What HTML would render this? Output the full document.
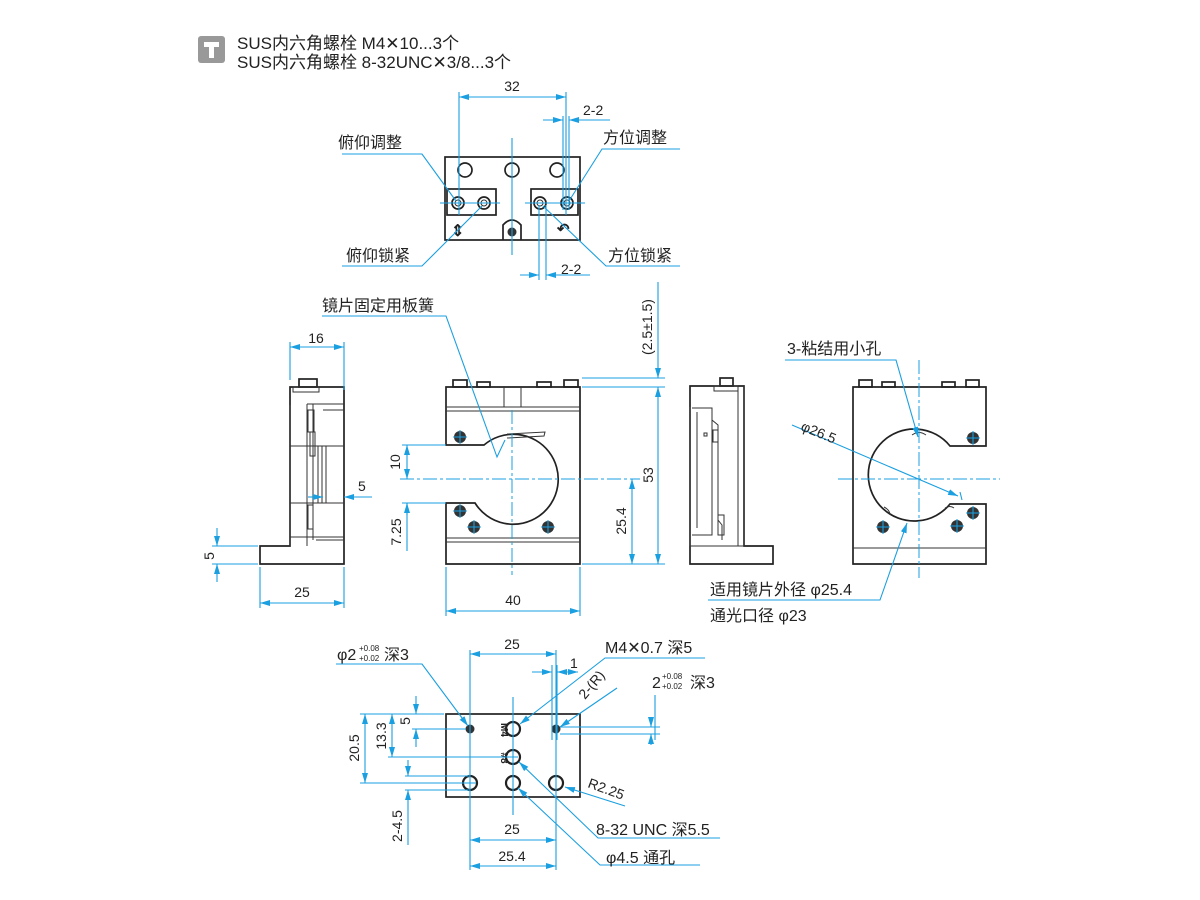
<!DOCTYPE html>
<html><head><meta charset="utf-8"><style>
html,body{margin:0;padding:0;background:#fff;width:1200px;height:900px;overflow:hidden}
svg{display:block}
text{font-family:"Liberation Sans","Noto Sans CJK SC",sans-serif;fill:#222}
.k{fill:none;stroke:#222;stroke-width:1.7}
.kt{fill:none;stroke:#333;stroke-width:1}
.b{fill:none;stroke:#1a9fe0;stroke-width:1.1}
.c{fill:none;stroke:#1a9fe0;stroke-width:1;stroke-dasharray:14 3 3 3}
.lb{font-size:16px}
.dm{font-size:14px}
</style></head><body>
<svg width="1200" height="900" viewBox="0 0 1200 900" xmlns="http://www.w3.org/2000/svg">
<defs>
<marker id="a" viewBox="0 0 10 6" refX="10" refY="3" markerWidth="10" markerHeight="6" orient="auto-start-reverse" markerUnits="userSpaceOnUse"><path d="M0,0L10,3L0,6z" fill="#1a9fe0"/></marker>
</defs>

<!-- header -->
<rect x="198" y="36" width="27" height="27" rx="3" fill="#999"/>
<rect x="204" y="42" width="15" height="5" fill="#fff"/>
<rect x="209" y="47" width="5" height="11" fill="#fff"/>
<text x="237" y="49" style="font-size:17px">SUS内六角螺栓 M4✕10...3个</text>
<text x="237" y="68" style="font-size:17px">SUS内六角螺栓 8-32UNC✕3/8...3个</text>

<!-- ===== top view ===== -->
<rect x="445" y="157" width="135" height="83" class="k"/>
<rect x="447" y="189" width="49" height="26" class="k"/>
<rect x="531" y="189" width="47" height="26" class="k"/>
<path d="M503,240 V225 Q512,215 521,225 V240" class="k"/>
<circle cx="512" cy="232" r="4.5" fill="#333"/>
<g class="k"><circle cx="465" cy="170" r="7"/><circle cx="512" cy="170" r="7"/><circle cx="557" cy="170" r="7"/>
<circle cx="458" cy="203" r="6"/><circle cx="484" cy="203" r="6"/><circle cx="540" cy="203" r="6"/><circle cx="567" cy="203" r="6"/></g>
<g class="kt"><circle cx="458" cy="203" r="3"/><circle cx="484" cy="203" r="3"/><circle cx="540" cy="203" r="3"/><circle cx="567" cy="203" r="3"/></g>
<text x="451" y="236" style="font-size:16px;font-weight:bold">⇕</text>
<text x="557" y="234" style="font-size:15px;font-weight:bold">↶</text>
<g class="b">
<line x1="512" y1="138" x2="512" y2="255"/>
<line x1="459" y1="92" x2="459" y2="215"/><line x1="566" y1="92" x2="566" y2="215"/>
<line x1="459" y1="97" x2="566" y2="97" marker-start="url(#a)" marker-end="url(#a)"/>
<line x1="563" y1="116" x2="563" y2="210"/><line x1="569" y1="116" x2="569" y2="210"/>
<line x1="543" y1="120" x2="563" y2="120" marker-end="url(#a)"/><line x1="569" y1="120" x2="610" y2="120" marker-start="url(#a)"/>
<line x1="539" y1="205" x2="539" y2="280"/><line x1="546" y1="205" x2="546" y2="280"/>
<line x1="520" y1="275" x2="539" y2="275" marker-end="url(#a)"/><line x1="546" y1="275" x2="590" y2="275" marker-start="url(#a)"/>
<path d="M342,154 H422 L456,201"/>
<path d="M680,149 H602 L569,201"/>
<path d="M342,266 H422 L482,206"/>
<path d="M680,266 H606 L543,206"/>
<line x1="440" y1="203" x2="500" y2="203"/><line x1="525" y1="203" x2="585" y2="203"/>
</g>
<text x="512" y="91" class="dm" text-anchor="middle">32</text>
<text x="583" y="115" class="dm">2-2</text>
<text x="561" y="274" class="dm">2-2</text>
<text x="338" y="148" class="lb">俯仰调整</text>
<text x="603" y="143" class="lb">方位调整</text>
<text x="346" y="261" class="lb">俯仰锁紧</text>
<text x="608" y="261" class="lb">方位锁紧</text>

<!-- ===== left side view ===== -->
<path d="M290,387 H344 V564 H260 V546 H290 Z" class="k"/>
<rect x="299" y="379" width="18" height="8" class="k"/>
<rect x="293" y="387" width="26" height="5" class="kt"/>
<g class="kt">
<line x1="290" y1="405" x2="290" y2="546"/>
<path d="M307,404 V546 M307,404 H344 M290,446 H344 M290,503 H344 M290,537 H344"/>
<rect x="308" y="410" width="6" height="22"/><rect x="310" y="432" width="5" height="24"/>
<rect x="318" y="446" width="4" height="57"/><rect x="322" y="446" width="4" height="57"/>
<rect x="308" y="505" width="5" height="24"/>
<path d="M313,404 V540 M323,410 H344 M316,540 H344"/>
</g>
<g class="b">
<line x1="290" y1="342" x2="290" y2="380"/><line x1="344" y1="342" x2="344" y2="390"/>
<line x1="290" y1="347" x2="344" y2="347" marker-start="url(#a)" marker-end="url(#a)"/>
<line x1="260" y1="567" x2="260" y2="608"/><line x1="344" y1="567" x2="344" y2="608"/>
<line x1="260" y1="603" x2="344" y2="603" marker-start="url(#a)" marker-end="url(#a)"/>
<line x1="212" y1="546" x2="258" y2="546"/><line x1="212" y1="564" x2="258" y2="564"/>
<line x1="217" y1="528" x2="217" y2="546" marker-end="url(#a)"/><line x1="217" y1="582" x2="217" y2="564" marker-end="url(#a)"/>
<line x1="308" y1="497" x2="323" y2="497" marker-end="url(#a)"/><line x1="372" y1="497" x2="344" y2="497" marker-end="url(#a)"/>
</g>
<text x="316" y="343" class="dm" text-anchor="middle">16</text>
<text x="302" y="597" class="dm" text-anchor="middle">25</text>
<text x="358" y="491" class="dm">5</text>
<text transform="translate(214,556) rotate(-90)" class="dm" text-anchor="middle">5</text>

<!-- ===== front view ===== -->
<path d="M446,387 H580 V564 H446 V503 H475 A45,45 0 1 0 484,445 H446 Z" class="k"/>
<g class="kt">
<line x1="446" y1="407" x2="580" y2="407"/><line x1="446" y1="411" x2="580" y2="411"/>
<line x1="504" y1="387" x2="504" y2="407"/><line x1="521" y1="387" x2="521" y2="407"/>
<line x1="446" y1="538" x2="580" y2="538"/><line x1="446" y1="542" x2="580" y2="542"/>
<path d="M507,434 L545,432 L544,436 L507,438"/>
</g>
<g class="k"><rect x="453" y="380" width="14" height="7"/><rect x="477" y="382" width="13" height="5"/><rect x="537" y="382" width="14" height="5"/><rect x="564" y="380" width="14" height="7"/></g>
<g fill="#333"><circle cx="460" cy="437" r="6"/><circle cx="460" cy="511" r="6"/><circle cx="474" cy="527" r="6"/><circle cx="548" cy="527" r="6"/></g>
<g class="b">
<path d="M453,437h14M460,430v14M453,511h14M460,504v14M467,527h14M474,520v14M541,527h14M548,520v14"/>
<line x1="512" y1="410" x2="512" y2="575" class="c"/>
<line x1="400" y1="479" x2="640" y2="479" class="c"/>
<path d="M322,316 H446 L497,457 L505,440"/>
<line x1="402" y1="445" x2="446" y2="445"/><line x1="402" y1="503" x2="446" y2="503"/>
<line x1="407" y1="445" x2="407" y2="479" marker-start="url(#a)" marker-end="url(#a)"/>
<line x1="407" y1="503" x2="407" y2="551"/>
<line x1="407" y1="515" x2="407" y2="503" marker-end="url(#a)"/>
<line x1="582" y1="564" x2="665" y2="564"/><line x1="582" y1="387" x2="665" y2="387"/><line x1="582" y1="378" x2="665" y2="378"/>
<line x1="632" y1="479" x2="632" y2="564" marker-start="url(#a)" marker-end="url(#a)"/>
<line x1="658" y1="387" x2="658" y2="564" marker-start="url(#a)" marker-end="url(#a)"/>
<line x1="658" y1="282" x2="658" y2="378" marker-end="url(#a)"/>
<line x1="446" y1="567" x2="446" y2="616"/><line x1="580" y1="567" x2="580" y2="616"/>
<line x1="446" y1="611" x2="580" y2="611" marker-start="url(#a)" marker-end="url(#a)"/>
</g>
<text x="322" y="311" class="lb">镜片固定用板簧</text>
<text transform="translate(400,462) rotate(-90)" class="dm" text-anchor="middle">10</text>
<text transform="translate(401,532) rotate(-90)" class="dm" text-anchor="middle">7.25</text>
<text transform="translate(626,521) rotate(-90)" class="dm" text-anchor="middle">25.4</text>
<text transform="translate(653,475) rotate(-90)" class="dm" text-anchor="middle">53</text>
<text transform="translate(652,327) rotate(-90)" class="dm" text-anchor="middle">(2.5±1.5)</text>
<text x="513" y="605" class="dm" text-anchor="middle">40</text>

<!-- ===== right side view ===== -->
<path d="M690,386 H744 V546 H773 V564 H690 Z" class="k"/>
<rect x="720" y="378" width="13" height="8" class="k"/>
<rect x="714" y="386" width="24" height="5" class="kt"/>
<g class="kt">
<path d="M690,407 V546 M690,546 H744 M744,546 V386"/>
<path d="M692,408 H712 V535 H692 M697,412 V528 M712,420 L718,425 V520 L722,525 V540"/>
<rect x="713" y="430" width="5" height="12"/><rect x="704" y="433" width="3" height="3"/>
<rect x="718" y="515" width="6" height="20"/>
<line x1="738" y1="391" x2="738" y2="546"/>
</g>

<!-- ===== back view ===== -->
<path d="M853,387 H986 V446 H950 A46,46 0 1 0 950,504 H986 V564 H853 Z" class="k"/>
<line x1="853" y1="548" x2="986" y2="548" class="kt"/>
<g class="k"><rect x="859" y="380" width="13" height="7"/><rect x="882" y="382" width="13" height="5"/><rect x="942" y="382" width="13" height="5"/><rect x="966" y="380" width="13" height="7"/></g>
<g class="kt"><path d="M912,435 Q919,430 926,435 M884,507 Q890,510 890,515 M945,508 Q950,505 954,508"/></g>
<g fill="#333"><circle cx="973" cy="438" r="6"/><circle cx="973" cy="513" r="6"/><circle cx="883" cy="527" r="6"/><circle cx="957" cy="526" r="6"/></g>
<g class="b">
<path d="M966,438h14M973,431v14M966,513h14M973,506v14M876,527h14M883,520v14M950,526h14M957,519v14"/>
<line x1="919" y1="360" x2="919" y2="578" class="c"/>
<line x1="838" y1="479" x2="1000" y2="479" class="c"/>
<path d="M785,360 H896 L918,437" marker-end="url(#a)"/>
<line x1="792" y1="425" x2="958" y2="496" marker-end="url(#a)"/>
<line x1="960" y1="492" x2="962" y2="500"/>
<path d="M708,600 H880 L907,523" marker-end="url(#a)"/>
</g>
<text x="787" y="354" class="lb">3-粘结用小孔</text>
<text transform="translate(800,430) rotate(22)" class="dm">φ26.5</text>
<text x="710" y="595" class="lb">适用镜片外径 φ25.4</text>
<text x="710" y="621" class="lb">通光口径 φ23</text>

<!-- ===== bottom view ===== -->
<rect x="446" y="714" width="134" height="83" class="k"/>
<g fill="#333"><circle cx="470" cy="729" r="4.5"/><circle cx="556" cy="729" r="4.5"/></g>
<g class="k" style="stroke-width:2.2"><circle cx="513" cy="729" r="7"/><circle cx="513" cy="757" r="7"/><circle cx="470" cy="783" r="7"/><circle cx="513" cy="783" r="7"/><circle cx="556" cy="783" r="7"/></g>
<text transform="translate(501,730) rotate(90)" style="font-size:10px;font-weight:bold" text-anchor="middle">M4</text>
<text transform="translate(501,758) rotate(90)" style="font-size:10px;font-weight:bold" text-anchor="middle">#8</text>
<g class="b">
<line x1="513" y1="697" x2="513" y2="815"/>
<line x1="470" y1="650" x2="470" y2="870"/><line x1="556" y1="650" x2="556" y2="870"/>
<line x1="470" y1="654" x2="556" y2="654" marker-start="url(#a)" marker-end="url(#a)"/>
<line x1="552" y1="665" x2="552" y2="740"/><line x1="557" y1="665" x2="557" y2="740"/>
<line x1="532" y1="672" x2="552" y2="672" marker-end="url(#a)"/><line x1="578" y1="672" x2="557" y2="672" marker-start="url(#a)" marker-end="url(#a)"/>
<line x1="470" y1="840" x2="556" y2="840" marker-start="url(#a)" marker-end="url(#a)"/>
<line x1="470" y1="866" x2="556" y2="866" marker-start="url(#a)" marker-end="url(#a)"/>
<path d="M336,664 H422 L468,726" marker-end="url(#a)"/>
<path d="M705,658 H605 L520,724" marker-end="url(#a)"/>
<line x1="617" y1="688" x2="560" y2="727" marker-end="url(#a)"/>
<path d="M655,695 V740 M560,727 H660 M560,734 H660"/>
<line x1="651" y1="717" x2="651" y2="727" marker-end="url(#a)"/><line x1="651" y1="745" x2="651" y2="734" marker-end="url(#a)"/>
<path d="M625,806 L565,787" marker-end="url(#a)"/>
<path d="M720,838 H598 L519,762" marker-end="url(#a)"/>
<path d="M700,865 H600 L518,788" marker-end="url(#a)"/>
<line x1="360" y1="714" x2="444" y2="714"/>
<line x1="365" y1="714" x2="365" y2="783" marker-start="url(#a)" marker-end="url(#a)"/>
<line x1="360" y1="783" x2="476" y2="783"/>
<line x1="392" y1="714" x2="392" y2="757" marker-start="url(#a)" marker-end="url(#a)"/>
<line x1="388" y1="757" x2="518" y2="757"/>
<line x1="416" y1="696" x2="416" y2="714" marker-end="url(#a)"/><line x1="416" y1="747" x2="416" y2="729" marker-end="url(#a)"/>
<line x1="412" y1="729" x2="466" y2="729"/>
<line x1="405" y1="776" x2="470" y2="776"/><line x1="405" y1="790" x2="470" y2="790"/>
<line x1="408" y1="760" x2="408" y2="776" marker-end="url(#a)"/><line x1="408" y1="845" x2="408" y2="790" marker-end="url(#a)"/>
</g>
<text x="337" y="660" class="lb">φ2</text>
<text x="359" y="651" style="font-size:8px">+0.08</text>
<text x="359" y="661" style="font-size:8px">+0.02</text>
<text x="384" y="660" class="lb">深3</text>
<text x="512" y="649" class="dm" text-anchor="middle">25</text>
<text x="605" y="653" class="lb">M4✕0.7 深5</text>
<text x="570" y="668" class="dm">1</text>
<text transform="translate(585,700) rotate(-50)" class="dm">2-(R)</text>
<text x="652" y="688" class="lb">2</text>
<text x="662" y="679" style="font-size:8px">+0.08</text>
<text x="662" y="689" style="font-size:8px">+0.02</text>
<text x="690" y="688" class="lb">深3</text>
<text transform="translate(587,787) rotate(20)" class="dm">R2.25</text>
<text x="596" y="835" class="lb">8-32 UNC 深5.5</text>
<text x="606" y="863" class="lb">φ4.5 通孔</text>
<text x="512" y="834" class="dm" text-anchor="middle">25</text>
<text x="512" y="861" class="dm" text-anchor="middle">25.4</text>
<text transform="translate(359,748) rotate(-90)" class="dm" text-anchor="middle">20.5</text>
<text transform="translate(386,736) rotate(-90)" class="dm" text-anchor="middle">13.3</text>
<text transform="translate(410,721) rotate(-90)" class="dm" text-anchor="middle">5</text>
<text transform="translate(402,826) rotate(-90)" class="dm" text-anchor="middle">2-4.5</text>
</svg>
</body></html>
